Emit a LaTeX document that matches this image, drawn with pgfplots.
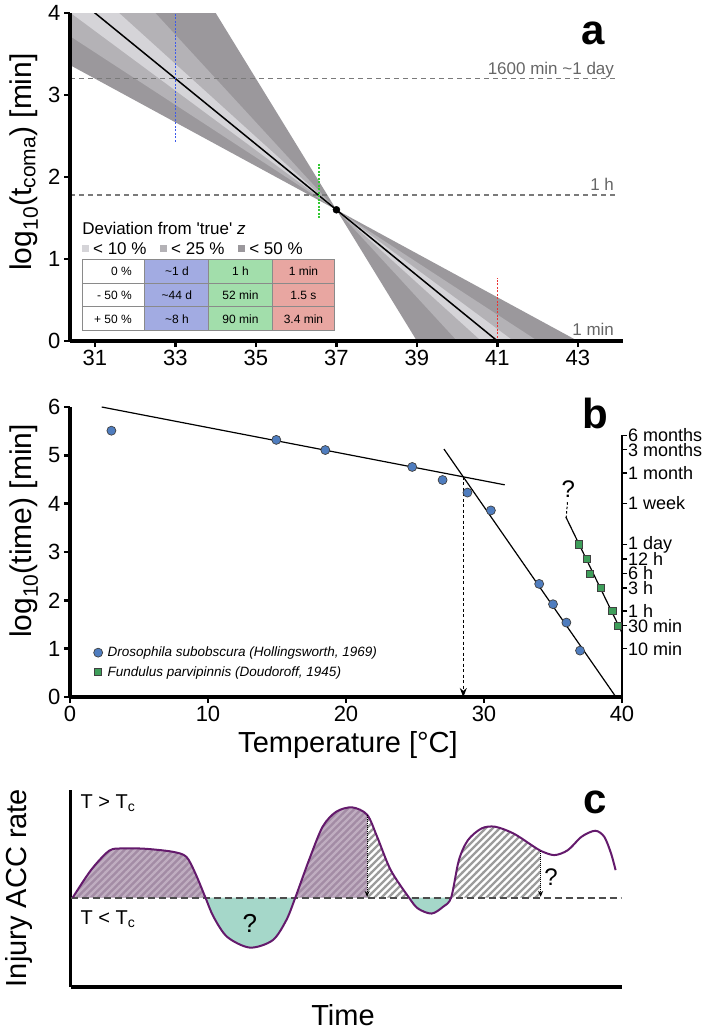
\documentclass[border=0pt]{standalone}
\usepackage{pgfplots}
\pgfplotsset{compat=1.18}
\usepackage{pgfplotstable}
\usetikzlibrary{patterns, arrows.meta}
\usepackage{fontspec}
\setmainfont{Liberation Sans}

\definecolor{bandA}{HTML}{D5D4D8}
\definecolor{bandB}{HTML}{B4B2B6}
\definecolor{bandC}{HTML}{9B989C}
\definecolor{cellB}{HTML}{A2ABE2}
\definecolor{cellG}{HTML}{A2DEAB}
\definecolor{cellR}{HTML}{E8A6A1}
\definecolor{cellBorder}{HTML}{8A8A8A}
\definecolor{refgray}{HTML}{7A7A7A}
\definecolor{txtgray}{HTML}{666666}
\definecolor{dros}{HTML}{4F7DBF}
\definecolor{fund}{HTML}{3E9E5A}
\definecolor{curvecol}{HTML}{641A6C}
\definecolor{mauve}{HTML}{A38CA5}
\definecolor{mauveline}{HTML}{BFADC0}
\definecolor{tealfill}{HTML}{A5D7C9}
\definecolor{hatchgray}{HTML}{9C9C9C}
\definecolor{dotblue}{RGB}{60,90,235}
\definecolor{dotgreen}{RGB}{50,200,50}
\definecolor{dotred}{RGB}{235,50,50}

\pgfdeclarepatternformonly{hatch}{\pgfqpoint{-1pt}{-1pt}}{\pgfqpoint{8pt}{8pt}}{\pgfqpoint{7pt}{7pt}}{%
  \pgfsetlinewidth{2.2pt}%
  \pgfpathmoveto{\pgfqpoint{-1pt}{-1pt}}%
  \pgfpathlineto{\pgfqpoint{8pt}{8pt}}%
  \pgfusepath{stroke}}

\newcommand{\fs}[1]{\fontsize{#1}{#1}\selectfont}

\pgfplotstableread{
x y
5 0
45 82
85 140
115 147
165 146
225 137
255 122
275 72
297 0
315 -58
345 -118
395 -150
445 -128
475 -68
495 0
525 112
555 212
585 257
620 270
653 248
675 182
705 82
745 0
765 -33
795 -48
820 -28
838 0
855 112
875 172
905 207
935 212
975 192
1015 157
1035 140
1065 127
1095 142
1125 182
1155 200
1175 182
1190 132
1200 82
}\curvetable

\begin{document}
\begin{tikzpicture}[x=1pt,y=1pt]

%================ Panel a =================
\begin{axis}[at={(70pt,-341pt)}, anchor=south west, scale only axis,
  width=553pt, height=328pt,
  xmin=30.38, xmax=44.12, ymin=0, ymax=4,
  axis lines*=left, axis line style={line width=3.5pt},
  xtick={31,33,35,37,39,41,43}, ytick={0,1,2,3,4},
  tick align=outside, major tick length=6pt,
  tick style={black, line width=2.5pt},
  ticklabel style={font=\fs{22}},
  /pgf/number format/assume math mode=true,
  axis on top, clip=true]
% <50 % band
\addplot[fill=bandC, draw=none] coordinates {(30.38,6.896) (37,1.6) (30.38,3.365)} -- cycle;
\addplot[fill=bandC, draw=none] coordinates {(44.12,-4.096) (37,1.6) (44.12,-0.299)} -- cycle;
% <25 % band
\addplot[fill=bandB, draw=none] coordinates {(30.38,5.131) (37,1.6) (30.38,3.718)} -- cycle;
\addplot[fill=bandB, draw=none] coordinates {(44.12,-2.197) (37,1.6) (44.12,-0.678)} -- cycle;
% <10 % band
\addplot[fill=bandA, draw=none] coordinates {(30.38,4.542) (37,1.6) (30.38,4.007)} -- cycle;
\addplot[fill=bandA, draw=none] coordinates {(44.12,-1.564) (37,1.6) (44.12,-0.989)} -- cycle;
% reference lines
\addplot[refgray, line width=1.5pt, dash pattern=on 5pt off 4pt] coordinates {(30.38,3.204) (43.97,3.204)};
\addplot[refgray, line width=1.5pt, dash pattern=on 5pt off 4pt] coordinates {(30.38,1.778) (43.97,1.778)};
% true line
\addplot[black, line width=1.5pt] coordinates {(30.38,4.248) (44.12,-1.248)};
\addplot[only marks, mark=*, mark size=3.5pt, black] coordinates {(37,1.6)};
% vertical dotted markers
\draw[draw=dotblue, line width=1.8pt, dash pattern=on 2pt off 1.5pt] (axis cs:33,2.43) -- (axis cs:33,4);
\draw[draw=dotgreen, line width=1.8pt, dash pattern=on 2pt off 1.5pt] (axis cs:36.56,1.5) -- (axis cs:36.56,2.18);
\draw[draw=dotred, line width=1.8pt, dash pattern=on 2pt off 1.5pt] (axis cs:41,0) -- (axis cs:41,0.77);
% labels
\node[anchor=base east, text=txtgray, font=\fs{17}, inner sep=0pt] at (axis cs:43.9,3.25) {1600 min \textasciitilde1 day};
\node[anchor=base east, text=txtgray, font=\fs{17}, inner sep=0pt] at (axis cs:43.9,1.84) {1 h};
\node[anchor=base east, text=txtgray, font=\fs{17}, inner sep=0pt] at (axis cs:43.9,0.07) {1 min};
% legend
\node[anchor=west, font=\fs{17}, inner sep=0pt] at (axis cs:30.68,1.37) {Deviation from \textquotesingle true\textquotesingle\ \textit{z}};
\fill[bandA] (axis cs:30.68,1.17) rectangle (axis cs:30.86,1.085);
\node[anchor=west, font=\fs{17}, inner sep=0pt] at (axis cs:30.95,1.13) {< 10 \%};
\fill[bandB] (axis cs:32.62,1.17) rectangle (axis cs:32.80,1.085);
\node[anchor=west, font=\fs{17}, inner sep=0pt] at (axis cs:32.89,1.13) {< 25 \%};
\fill[bandC] (axis cs:34.55,1.17) rectangle (axis cs:34.73,1.085);
\node[anchor=west, font=\fs{17}, inner sep=0pt] at (axis cs:34.83,1.13) {< 50 \%};
% table
\draw[cellBorder, line width=1pt, fill=white] (axis cs:30.68,1.0) rectangle (axis cs:32.24,0.707);
\draw[cellBorder, line width=1pt, fill=white] (axis cs:30.68,0.707) rectangle (axis cs:32.24,0.415);
\draw[cellBorder, line width=1pt, fill=white] (axis cs:30.68,0.415) rectangle (axis cs:32.24,0.122);
\draw[cellBorder, line width=1pt, fill=cellB] (axis cs:32.24,1.0) rectangle (axis cs:33.83,0.707);
\draw[cellBorder, line width=1pt, fill=cellB] (axis cs:32.24,0.707) rectangle (axis cs:33.83,0.415);
\draw[cellBorder, line width=1pt, fill=cellB] (axis cs:32.24,0.415) rectangle (axis cs:33.83,0.122);
\draw[cellBorder, line width=1pt, fill=cellG] (axis cs:33.83,1.0) rectangle (axis cs:35.40,0.707);
\draw[cellBorder, line width=1pt, fill=cellG] (axis cs:33.83,0.707) rectangle (axis cs:35.40,0.415);
\draw[cellBorder, line width=1pt, fill=cellG] (axis cs:33.83,0.415) rectangle (axis cs:35.40,0.122);
\draw[cellBorder, line width=1pt, fill=cellR] (axis cs:35.40,1.0) rectangle (axis cs:36.96,0.707);
\draw[cellBorder, line width=1pt, fill=cellR] (axis cs:35.40,0.707) rectangle (axis cs:36.96,0.415);
\draw[cellBorder, line width=1pt, fill=cellR] (axis cs:35.40,0.415) rectangle (axis cs:36.96,0.122);
\node[anchor=east, font=\fs{12}, inner sep=0pt] at (axis cs:31.92,0.854) {0 \%};
\node[anchor=east, font=\fs{12}, inner sep=0pt] at (axis cs:31.92,0.561) {- 50 \%};
\node[anchor=east, font=\fs{12}, inner sep=0pt] at (axis cs:31.92,0.268) {+ 50 \%};
\node[font=\fs{12}, inner sep=0pt] at (axis cs:33.035,0.854) {\textasciitilde1 d};
\node[font=\fs{12}, inner sep=0pt] at (axis cs:33.035,0.561) {\textasciitilde44 d};
\node[font=\fs{12}, inner sep=0pt] at (axis cs:33.035,0.268) {\textasciitilde8 h};
\node[font=\fs{12}, inner sep=0pt] at (axis cs:34.615,0.854) {1 h};
\node[font=\fs{12}, inner sep=0pt] at (axis cs:34.615,0.561) {52 min};
\node[font=\fs{12}, inner sep=0pt] at (axis cs:34.615,0.268) {90 min};
\node[font=\fs{12}, inner sep=0pt] at (axis cs:36.18,0.854) {1 min};
\node[font=\fs{12}, inner sep=0pt] at (axis cs:36.18,0.561) {1.5 s};
\node[font=\fs{12}, inner sep=0pt] at (axis cs:36.18,0.268) {3.4 min};
\end{axis}
\node[rotate=90, font=\fs{30}] at (24pt,-162pt) {log\textsubscript{10}(t\textsubscript{coma}) [min]};
\node[font=\bfseries\fs{42}] at (593pt,-33pt) {a};

%================ Panel b =================
\begin{axis}[at={(70pt,-697pt)}, anchor=south west, scale only axis,
  width=552pt, height=290pt,
  xmin=0, xmax=40, ymin=0, ymax=6,
  axis lines*=left, axis line style={line width=3.5pt},
  xtick={0,10,20,30,40}, ytick={0,1,2,3,4,5,6},
  tick align=outside, major tick length=6pt,
  tick style={black, line width=2.5pt},
  ticklabel style={font=\fs{22}},
  /pgf/number format/assume math mode=true,
  clip=false,
  legend style={at={(axis cs:1.7,1.08)}, anchor=north west, draw=none, fill=none,
    font=\itshape\fs{13.5}, row sep=4pt, inner sep=0pt, nodes={inner xsep=5pt}},
  legend cell align=left]
\addplot[black, line width=1.2pt, forget plot] coordinates {(2.3,6.0) (31.5,4.39)};
\addplot[black, line width=1.2pt, forget plot] coordinates {(27.1,5.13) (39.56,0)};
\addplot[black, line width=1.2pt, forget plot] coordinates {(35.94,3.72) (40,1.33)};
\addplot[black, line width=1pt, dash pattern=on 2.5pt off 2pt, forget plot] coordinates {(35.95,3.7) (36.05,4.03)};
\addplot[black, line width=1pt, dash pattern=on 3pt off 2.5pt, -{Stealth[length=9pt,width=7pt]}, forget plot] coordinates {(28.5,4.56) (28.5,0)};
\addplot[black, line width=1.3pt, forget plot] coordinates {(40,0) (40,5.414)};
\addplot[only marks, mark=*, mark size=4.5pt, mark options={fill=dros, draw=black!75, line width=0.7pt}]
  coordinates {(3.0,5.51) (14.95,5.32) (18.5,5.11) (24.8,4.76) (27.0,4.49) (28.8,4.23) (30.5,3.86) (34.0,2.34) (35.0,1.92) (35.97,1.54) (36.96,0.96)};
\addplot[only marks, mark=square*, mark size=3.6pt, mark options={fill=fund, draw=black!75, line width=0.7pt}]
  coordinates {(36.86,3.158) (37.45,2.857) (37.68,2.556) (38.47,2.255) (39.30,1.778) (39.69,1.477)};
\legend{{Drosophila subobscura (Hollingsworth, 1969)}, {Fundulus parvipinnis (Doudoroff, 1945)}}
\node[font=\fs{24}] at (axis cs:36.1,4.3) {?};
\end{axis}
\begin{axis}[at={(70pt,-697pt)}, anchor=south west, scale only axis,
  width=552pt, height=290pt,
  xmin=0, xmax=40, ymin=0, ymax=6,
  axis x line=none, axis y line*=right, y axis line style={draw=none},
  ytick={1.0,1.477,1.778,2.255,2.556,2.857,3.158,4.003,4.635,5.113,5.414},
  yticklabels={10 min,30 min,1 h,3 h,6 h,12 h,1 day,1 week,1 month,3 months,6 months},
  tick align=outside, major tick length=5pt,
  tick style={black, line width=1.2pt},
  yticklabel style={font=\fs{18}, anchor=west, inner sep=1pt}]
\addplot[draw=none] coordinates {(0,0) (40,6)};
\end{axis}
\node[rotate=90, font=\fs{30}] at (24pt,-531pt) {log\textsubscript{10}(time) [min]};
\node[font=\fs{29}] at (348pt,-745pt) {Temperature [°C]};
\node[font=\bfseries\fs{42}] at (595pt,-413pt) {b};

%================ Panel c =================
\begin{axis}[at={(70.5pt,-987pt)}, anchor=south west, scale only axis,
  width=551pt, height=197pt,
  xmin=0, xmax=1213, ymin=-268, ymax=322,
  axis lines*=left, axis line style={line width=3.5pt},
  xtick=\empty, ytick=\empty, clip=true]
% purple hatched (integrated)
\addplot[fill=mauve, draw=none, smooth] coordinates {(5,0) (45,82) (85,140) (115,147) (165,146) (225,137) (255,122) (275,72) (297,0)} \closedcycle;
\addplot[pattern=hatch, pattern color=mauveline, draw=none, smooth] coordinates {(5,0) (45,82) (85,140) (115,147) (165,146) (225,137) (255,122) (275,72) (297,0)} \closedcycle;
\addplot[fill=mauve, draw=none, smooth] coordinates {(495,0) (525,112) (555,212) (585,257) (620,270) (653,248)} \closedcycle;
\addplot[pattern=hatch, pattern color=mauveline, draw=none, smooth] coordinates {(495,0) (525,112) (555,212) (585,257) (620,270) (653,248)} \closedcycle;
% teal (below threshold)
\addplot[fill=tealfill, draw=none, smooth] coordinates {(297,0) (315,-58) (345,-118) (395,-150) (445,-128) (475,-68) (495,0)} \closedcycle;
\addplot[fill=tealfill, draw=none, smooth] coordinates {(745,0) (765,-33) (795,-48) (820,-28) (838,0)} \closedcycle;
% gray hatched (unknown)
\addplot[pattern=hatch, pattern color=hatchgray, draw=none, smooth] coordinates {(653,248) (675,182) (705,82) (745,0)} \closedcycle;
\addplot[pattern=hatch, pattern color=hatchgray, draw=none, smooth] coordinates {(838,0) (855,112) (875,172) (905,207) (935,212) (975,192) (1015,157) (1035,140)} \closedcycle;
\addplot[black!70, line width=2pt, dash pattern=on 7pt off 4pt] coordinates {(0,0) (1213,0)};
\addplot[curvecol, line width=2pt, smooth] table {\curvetable};
\addplot[black, line width=1pt, densely dotted, -{Stealth[length=6pt,width=5pt]}] coordinates {(653,246) (653,2)};
\addplot[black, line width=1pt, densely dotted, -{Stealth[length=6pt,width=5pt]}] coordinates {(1035,138) (1035,2)};
\node[font=\fs{26}] at (axis cs:395,-78) {?};
\node[font=\fs{24}] at (axis cs:1058,62) {?};
\node[anchor=west, font=\fs{20}, inner sep=0pt] at (axis cs:22,282) {T > T\textsubscript{c}};
\node[anchor=west, font=\fs{20}, inner sep=0pt] at (axis cs:22,-66) {T < T\textsubscript{c}};
\end{axis}
\node[rotate=90, font=\fs{29}] at (19pt,-888pt) {Injury ACC rate};
\node[font=\fs{29}] at (343pt,-1015pt) {Time};
\node[font=\bfseries\fs{42}] at (595pt,-802pt) {c};
\pgfresetboundingbox
\path[use as bounding box] (0pt,0pt) rectangle (709pt,-1034pt);
\end{tikzpicture}
\end{document}
